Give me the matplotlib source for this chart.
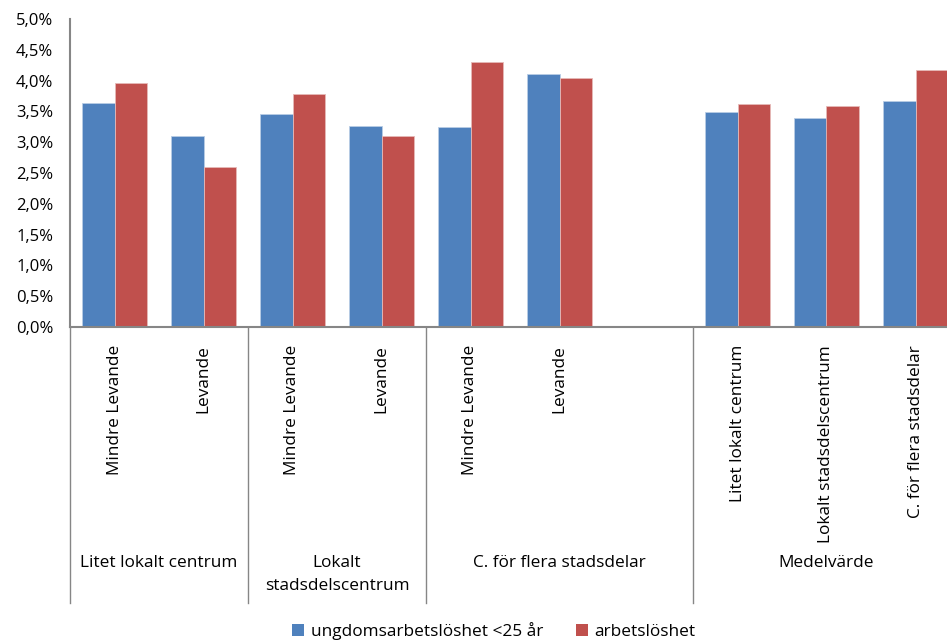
import numpy as np
import matplotlib
matplotlib.use("Agg")
import matplotlib.pyplot as plt
import matplotlib.transforms as mtransforms
from matplotlib.patches import Patch

# ── Data ─────────────────────────────────────────────────────────────────────
sub_labels = ["Mindre Levande", "Levande",
              "Mindre Levande", "Levande",
              "Mindre Levande", "Levande", "",
              "Litet lokalt centrum", "Lokalt stadsdelscentrum",
              "C. för flera stadsdelar"]
group_labels = ["Litet lokalt centrum", "Lokalt\nstadsdelscentrum",
                "C. för flera stadsdelar", "Medelvärde"]
group_sizes = [2, 2, 3, 3]

ungdom = [3.63, 3.10, 3.46, 3.26, 3.25, 4.11, np.nan, 3.49, 3.40, 3.67]
arbets = [3.96, 2.60, 3.78, 3.10, 4.30, 4.04, np.nan, 3.62, 3.59, 4.17]

series_names = ["ungdomsarbetslöshet <25 år", "arbetslöshet"]
colors = ["#4F81BD", "#C0504D"]
yticks = np.arange(0, 5.01, 0.5)

# ── Figure ───────────────────────────────────────────────────────────────────
plt.rcParams["font.family"] = ["Open Sans", "DejaVu Sans"]
W, H = 947, 644
FS = 12.4
fig = plt.figure(figsize=(W / 100, H / 100), dpi=100)
# diagrammet är beskuret till höger i originalet (axeln går förbi bildkanten)
ax = fig.add_axes([70 / W, 1 - 327 / H, 890 / W, (327 - 19) / H])

x = np.arange(len(sub_labels))
bw = 0.365
ax.bar(x - bw / 2, ungdom, bw, color=colors[0], edgecolor="#B9CDE5", linewidth=0.6)
ax.bar(x + bw / 2, arbets, bw, color=colors[1], edgecolor="#E6B9B8", linewidth=0.6)

ax.set_xlim(-0.5, len(sub_labels) - 0.5)
ax.set_ylim(0, 5.0)
ax.set_yticks(yticks)
ax.set_yticklabels([f"{v:.1f}%".replace(".", ",") for v in yticks], fontsize=12)
ax.tick_params(axis="y", length=0, pad=12)
ax.tick_params(axis="x", length=0)
ax.set_xticks(x)
ax.set_xticklabels([])

for s in ["top", "right"]:
    ax.spines[s].set_visible(False)
for s in ["left", "bottom"]:
    ax.spines[s].set_color("#868686")
    ax.spines[s].set_linewidth(1.5)

# Kategori-etiketter (roterade)
trans = mtransforms.blended_transform_factory(ax.transData, ax.transAxes)
px = 1 / (327 - 19)   # en pixel i axes-koordinater (y)
for xi, lab in zip(x, sub_labels):
    if lab:
        ax.text(xi, -18 * px, lab, transform=trans, rotation=90,
                ha="center", va="top", fontsize=FS)

# Grupp-avgränsare och grupp-etiketter
bounds = np.concatenate([[0], np.cumsum(group_sizes)]) - 0.5
for b in bounds[:-1]:
    ax.plot([b, b], [0, -(603 - 327) * px], transform=trans, color="#868686",
            linewidth=1.0, clip_on=False)
for i, lab in enumerate(group_labels):
    mid = (bounds[i] + bounds[i + 1]) / 2
    ax.text(mid, -(555 - 327) * px, lab, transform=trans, ha="center",
            va="top", fontsize=FS, linespacing=1.6)

# Legend
handles = [Patch(facecolor=c, edgecolor="none") for c in colors]
fig.legend(handles, series_names, loc="center", bbox_to_anchor=(494 / W, 1 - 631 / H),
           ncol=2, frameon=False, fontsize=FS, handlelength=0.7, handleheight=0.7,
           handletextpad=0.4, columnspacing=1.85)

fig.savefig("out.png", dpi=100)
